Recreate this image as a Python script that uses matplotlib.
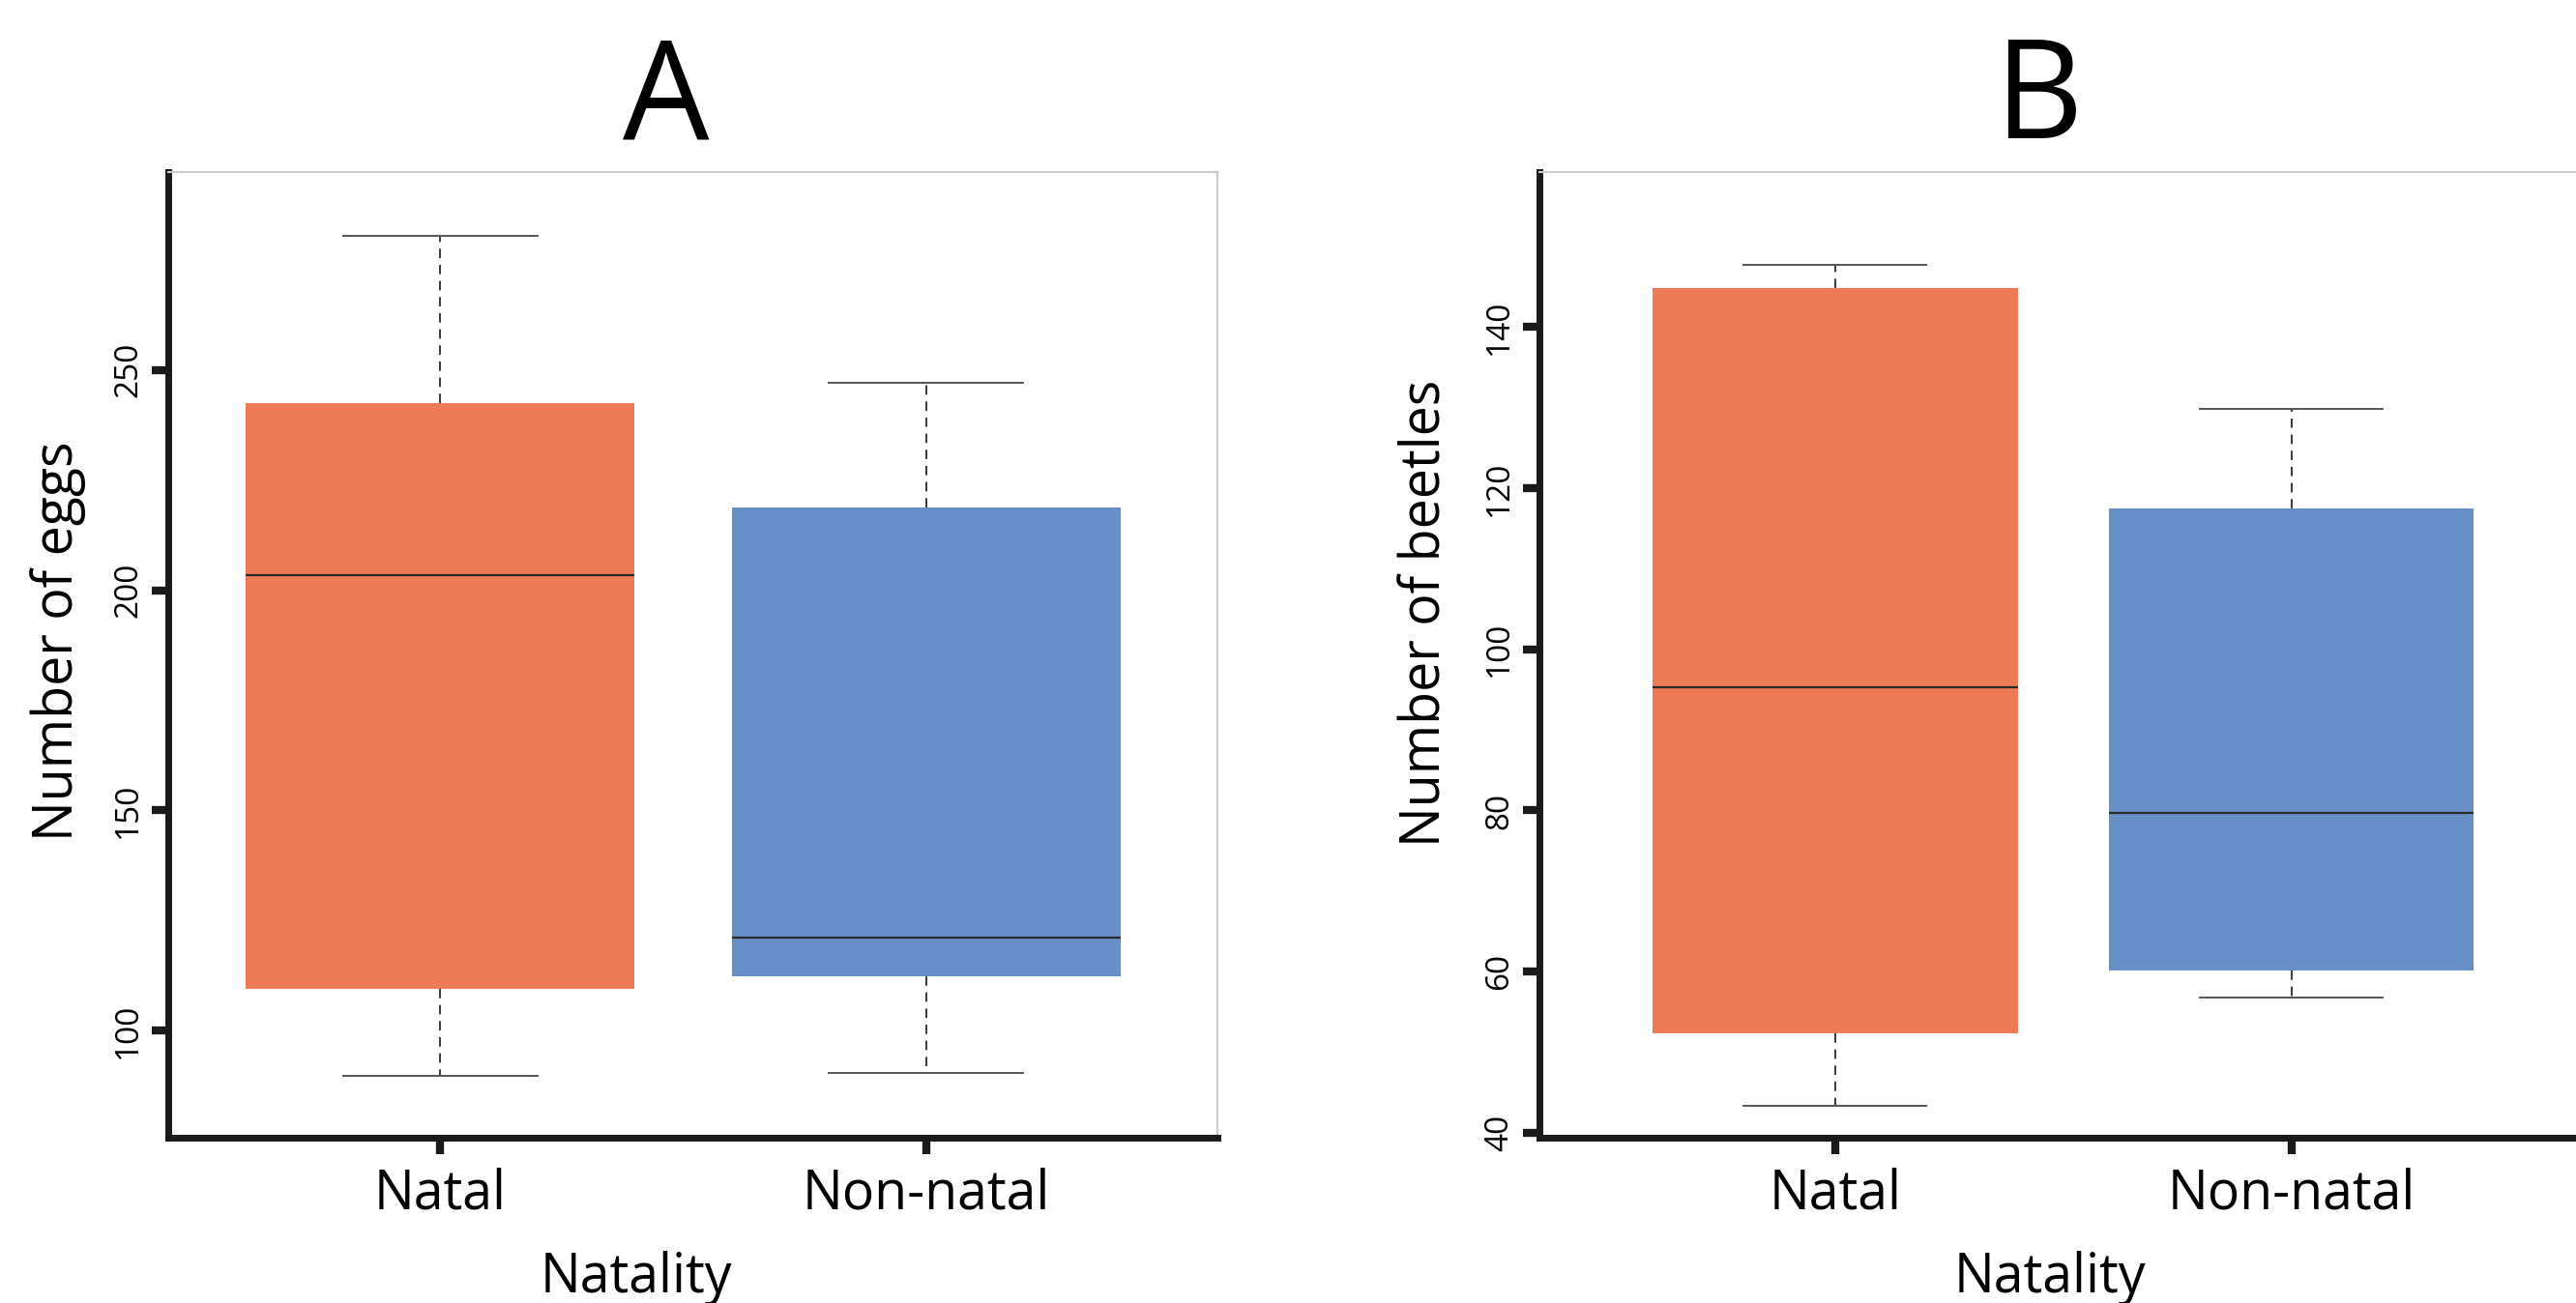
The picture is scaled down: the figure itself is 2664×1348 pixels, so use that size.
import matplotlib.pyplot as plt

plt.rcParams['font.family'] = ['Open Sans', 'DejaVu Sans']
plt.rcParams['lines.scale_dashes'] = False

groups = ['Natal', 'Non-natal']
box_colors = ['#ED7B55', '#688FC8']

# panel A - number of eggs
eggs_low = [89.8, 90.3]
eggs_q1 = [109.4, 112.3]
eggs_med = [203.5, 121.2]
eggs_q3 = [242.4, 218.7]
eggs_high = [280.5, 247.0]
eggs_ticks = [100, 150, 200, 250]

# panel B - number of beetles
beetles_low = [43.4, 56.8]
beetles_q1 = [52.4, 60.2]
beetles_med = [95.3, 79.7]
beetles_q3 = [144.8, 117.5]
beetles_high = [147.7, 129.8]
beetles_ticks = [40, 60, 80, 100, 120, 140]

W, H = 2664, 1348


def make_stats(low, q1, med, q3, high):
    return [dict(label=g, whislo=a, q1=b, med=c, q3=d, whishi=e)
            for g, a, b, c, d, e in zip(groups, low, q1, med, q3, high)]


def draw_panel(ax, stats, yticks, ylim, xlim):
    bp = ax.bxp(stats, positions=[1, 2], widths=0.8, capwidths=0.4,
                patch_artist=True, showfliers=False,
                boxprops=dict(linewidth=0),
                whiskerprops=dict(color='#3a3a3a', linewidth=1.4, linestyle=(0, (7, 5))),
                capprops=dict(color='#555555', linewidth=1.4),
                medianprops=dict(color='#2a2a2a', linewidth=1.6))
    for patch, c in zip(bp['boxes'], box_colors):
        patch.set_facecolor(c)
        patch.set_edgecolor(c)

    ax.set_xlim(*xlim)
    ax.set_ylim(*ylim)
    ax.set_yticks(yticks)
    ax.set_xticks([1, 2])
    ax.set_xticklabels(groups)

    for s in ['left', 'bottom']:
        ax.spines[s].set_linewidth(5)
        ax.spines[s].set_color('#1a1a1a')
    for s in ['top', 'right']:
        ax.spines[s].set_linewidth(1.5)
        ax.spines[s].set_color('#cccccc')

    ax.tick_params(axis='both', direction='out', length=12, width=6, color='#1a1a1a')
    ax.tick_params(axis='y', labelsize=24, pad=6)
    ax.tick_params(axis='x', labelsize=40, pad=10)
    for lab in ax.get_yticklabels():
        lab.set_rotation(90)
        lab.set_va('center')
        lab.set_ha('right')


fig = plt.figure(figsize=(W / 100, H / 100), dpi=100)

top, bottom = 178, 1177
ax_a = fig.add_axes([174 / W, 1 - bottom / H, (1259 - 174) / W, (bottom - top) / H])
ax_b = fig.add_axes([1592 / W, 1 - bottom / H, (2700 - 1592) / W, (bottom - top) / H])

draw_panel(ax_a, make_stats(eggs_low, eggs_q1, eggs_med, eggs_q3, eggs_high),
           eggs_ticks, (75.7, 294.9), (0.44, 2.6))
draw_panel(ax_b, make_stats(beetles_low, beetles_q1, beetles_med, beetles_q3, beetles_high),
           beetles_ticks, (39.4, 159.2), (0.352, 2.70))

# panel letters
fig.text(689 / W, 1 - 143 / H, 'A', fontsize=102, ha='center', va='baseline')
fig.text(2108 / W, 1 - 143 / H, 'B', fontsize=102, ha='center', va='baseline')

# axis labels
fig.text(75 / W, 1 - 663 / H, 'Number of eggs', fontsize=40, rotation=90,
         ha='center', va='baseline', rotation_mode='anchor')
fig.text(1489 / W, 1 - 634 / H, 'Number of beetles', fontsize=40, rotation=90,
         ha='center', va='baseline', rotation_mode='anchor')
fig.text(658 / W, 1 - 1337 / H, 'Natality', fontsize=40, ha='center', va='baseline')
fig.text(2120 / W, 1 - 1337 / H, 'Natality', fontsize=40, ha='center', va='baseline')

fig.savefig('out.png', dpi=100)
